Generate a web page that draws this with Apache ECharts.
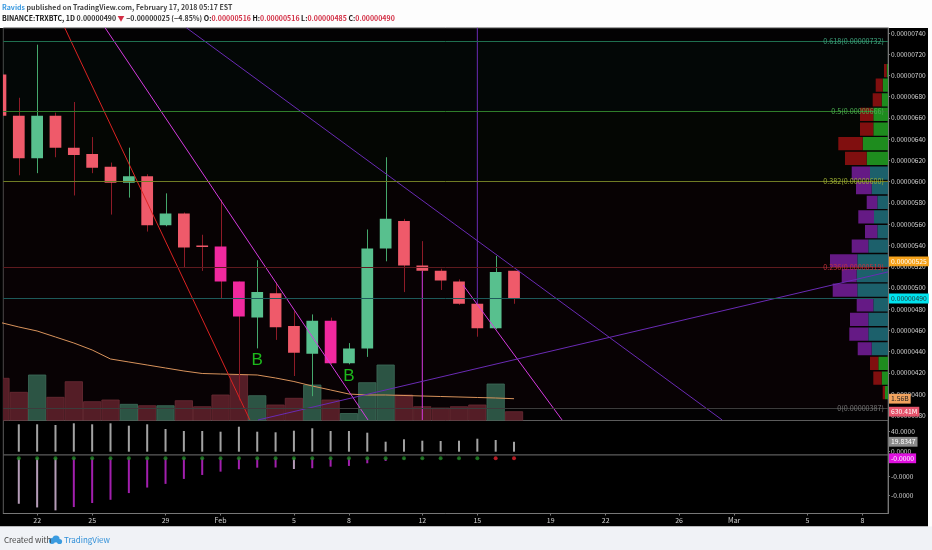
<!DOCTYPE html>
<html>
<head>
<meta charset="utf-8">
<script src="https://cdn.jsdelivr.net/npm/echarts@6.0.0/dist/echarts.min.js"></script>
<style>
html,body{margin:0;padding:0;background:#fdfdfd;overflow:hidden}
#chart{width:932px;height:550px}
</style>
</head>
<body>
<div id="chart"></div>
<script>
// ================= DATA (prices in satoshi = 1e-8 BTC) =================
const dates = ['2018-01-20','2018-01-21','2018-01-22','2018-01-23','2018-01-24','2018-01-25','2018-01-26','2018-01-27','2018-01-28','2018-01-29','2018-01-30','2018-01-31','2018-02-01','2018-02-02','2018-02-03','2018-02-04','2018-02-05','2018-02-06','2018-02-07','2018-02-08','2018-02-09','2018-02-10','2018-02-11','2018-02-12','2018-02-13','2018-02-14','2018-02-15','2018-02-16','2018-02-17'];
const opens  = [701,662,622,662,632,626,614,599,605,559,570,540,539,506,472,495,464,438,469,429,443,537,563,521,516,506,485,462,516];
const highs  = [712,679,729,665,675,642,618,632,607,589,571,550,583,506,526,505,478,475,472,448,555,623,565,544,518,508,486,530,516];
const lows   = [652,606,608,623,587,608,569,585,553,558,519,516,490,394,443,451,417,398,428,428,435,525,496,514,498,484,454,461,485];
const closes = [662,622,662,632,625,613,599,605,559,570,538,539,506,473,496,463,439,469,429,443,537,565,521,516,507,485,462,515,490];
const volumeM   = [3022,2019,3258,1661,2778,1346,1468,1160,1060,1060,1418,988,1826,3258,1776,1110,1590,2542,1468,500,2706,3974,1826,988,895,988,1110,2613,630.41];
const volumeMA  = [7017,6695,6408,5979,5549,5048,4403,4189,3974,3759,3544,3365,3329,3294,3258,3043,2792,2470,2184,1897,1826,1826,1790,1754,1718,1683,1647,1611,1560];
const highlightBars = ['2018-02-01','2018-02-02','2018-02-07'];
const buySignals = ['2018-02-03','2018-02-08'];
const oscillator = [55,54.8,54.8,53.4,56.8,54.8,56.8,52,54.8,45.4,41.4,41.4,40,50,40,38.8,42,46.8,41.4,41.4,38,20,24.8,22,21.4,22,26,23.4,19.8347];
const momentumE6 = [-45,-49.4,-53.4,-56.6,-53.0,-48.6,-45.1,-37.8,-31.8,-27.8,-22.4,-18.1,-14.5,-11.9,-10.2,-10.0,-11.6,-10.8,-9.1,-8.3,-5.4,-2.9,-1.2,-0.9,-0.6,-0.4,-0.3,-0.2,-0.1];
const squeezeOffDays = ['2018-02-16','2018-02-17'];
const xTickDates  = ['2018-01-22','2018-01-25','2018-01-29','2018-02-01','2018-02-05','2018-02-08','2018-02-12','2018-02-15','2018-02-19','2018-02-22','2018-02-26','2018-03-01','2018-03-05','2018-03-08'];
const xTickLabels = ['22','25','29','Feb','5','8','12','15','19','22','26','Mar','5','8'];
const priceTicks = [380,400,420,440,460,480,500,520,540,560,580,600,620,640,660,680,700,720,740];
const fibRatios = [0.618,0.5,0.382,0.236,0];
const fibPrices = [732,666,600,519,387];
const profileBase = 394.4, profileStep = 13.79;
const profileDown = [2.3,8.4,8.3,14,19,18.3,16.6,24.6,15,27.3,16.6,12.3,15.7,10.6,15.7,18.3,21.7,24.4,13.3,13.3,9,7,2.7];
const profileUp   = [3,6.3,9.7,16.3,19.7,19.7,14.7,30.7,31.3,30.7,19.7,10.7,14,10.7,16.3,18,21.3,25.3,14.7,14.7,6.3,5.3,1.3];
const valueAreaLow = 435.8, valueAreaHigh = 615.0;
// drawings: anchors [day offset from first date, price]
const lineRed      = [[3.5,745],[13.6,375.6]];
const lineMagentaA = [[5.70,745],[20.04,375.6]];
const lineMagentaC = [[25.22,502.7],[30.62,375.6]];
const linePurpleB  = [[10.13,745],[39.35,375.6]];
const linePurpleD  = [[14.04,375.6],[48.39,515.0]];
const vLinePurple  = [[26,745],[26,485]];
const vLineMagenta = [[23,516],[23,375.6]];
const alertPrice = 525;
const volMaLabel = '1.56B', volLastLabel = '630.41M';

// ================= HELPERS =================
const t0 = Date.parse(dates[0] + 'T00:00:00Z');
const dayOf = s => (Date.parse(s + 'T00:00:00Z') - t0) / 86400000;
const fmt8 = v => (v * 1e-8).toFixed(8);
const FONT = '"Noto Sans CJK SC","Liberation Sans",Arial,sans-serif';
const X_MIN = 0.155, X_MAX = 48.39, P_MIN = 375.1, P_MAX = 744.7;
const n = dates.length;
const last = n - 1;
const chg = closes[last] - closes[last - 1];
const pct = chg / closes[last - 1] * 100;
const minus = s => s.replace('-', '\u2212');
const tickX = xTickDates.map(dayOf);
const inView = d => dayOf(d) >= X_MIN;

const candleData = dates.map((d, i) => [dayOf(d), opens[i], closes[i], lows[i], highs[i], highlightBars.includes(d) ? 1 : 0]);
const volData = dates.map((d, i) => [dayOf(d), volumeM[i], closes[i] >= opens[i] ? 1 : 0]);
const profileData = profileDown.map((dn, k) => [profileBase + k * profileStep, dn, profileUp[k]]);
const oscData = dates.map((d, i) => [dayOf(d), oscillator[i]]).filter((p, i) => inView(dates[i]));
const momIdx = dates.map((d, i) => i).filter(i => inView(dates[i]));

const axisLabelStyle = {color: '#d2d2d2', fontSize: 6.6, fontFamily: FONT};
function xAxisDef(gridIndex, showLabels) {
  return {
    type: 'value', gridIndex, min: X_MIN, max: X_MAX,
    axisLine: {show: showLabels, onZero: false, lineStyle: {color: '#777'}},
    axisTick: {show: showLabels, customValues: tickX, length: 2, lineStyle: {color: '#777'}},
    axisLabel: Object.assign({show: showLabels, margin: 3, customValues: tickX,
      formatter: v => { let k = 0, b = 1e9; tickX.forEach((t, i) => { if (Math.abs(t - v) < b) { b = Math.abs(t - v); k = i; } }); return xTickLabels[k]; }
    }, axisLabelStyle, {fontSize: 7}),
    splitLine: {show: false}
  };
}

function renderCandle(params, api) {
  const d = api.value(0), o = api.value(1), c = api.value(2), l = api.value(3), h = api.value(4), hl = api.value(5);
  const pH = api.coord([d, h]), pL = api.coord([d, l]), pO = api.coord([d, o]), pC = api.coord([d, c]);
  const w = api.size([0.64, 0])[0];
  const up = c >= o;
  const body = hl ? '#f0299e' : (up ? '#58c08e' : '#ef5a6a');
  const wick = up ? '#45a86c' : '#8e1b27';
  const top = Math.min(pO[1], pC[1]);
  return {type: 'group', children: [
    {type: 'line', shape: {x1: Math.round(pH[0]) + 0.5, y1: pH[1], x2: Math.round(pH[0]) + 0.5, y2: pL[1]}, style: {stroke: wick, lineWidth: 1}},
    {type: 'rect', shape: {x: pO[0] - w / 2, y: top, width: w, height: Math.max(1.5, Math.abs(pO[1] - pC[1]))}, style: {fill: body}}
  ]};
}
function renderVolume(params, api) {
  const d = api.value(0), v = api.value(1), up = api.value(2);
  const a = api.coord([d - 0.5, v]), b = api.coord([d + 0.5, 0]);
  return {type: 'rect', shape: {x: a[0] + 0.5, y: a[1], width: b[0] - a[0] - 1, height: b[1] - a[1]},
    style: {fill: up ? '#2c5444' : '#541d26', stroke: up ? '#3f6d5a' : '#6c2c35', lineWidth: 0.8}};
}
function renderProfile(params, api) {
  const pLo = api.value(0), dn = api.value(1), up = api.value(2);
  const pHi = pLo + profileStep;
  const a = api.coord([0, pHi]), b = api.coord([up, pLo]), c = api.coord([up + dn, pLo]);
  const mid = pLo + profileStep / 2;
  const inVA = mid >= valueAreaLow && mid <= valueAreaHigh;
  const top = a[1] + 0.7, h = b[1] - a[1] - 1.4;
  return {type: 'group', children: [
    {type: 'rect', shape: {x: b[0], y: top, width: a[0] - b[0], height: h}, style: {fill: inVA ? '#1c606b' : '#1e8c1e'}},
    {type: 'rect', shape: {x: c[0], y: top, width: b[0] - c[0], height: h}, style: {fill: inVA ? '#651a85' : '#800f0f'}}
  ]};
}
function trend(data, color, z) {
  return {type: 'line', xAxisIndex: 0, yAxisIndex: 0, data, symbol: 'none', clip: true, silent: true,
    lineStyle: {color, width: 1}, z: z || 6};
}
const fibLineColors = ['#1f6f4f', '#2f7d2a', '#6f7c24', '#5e1a1e', '#3c3c3c'];
const fibTextColors = ['#3fa57e', '#4caf50', '#a0b232', '#c8323c', '#777777'];
const hidden = {color: 'rgba(0,0,0,0)', width: 0};
const boxLabel = (text, bg, fg) => ({show: true, position: 'end', distance: 1, formatter: text, backgroundColor: bg, color: fg,
  padding: [2, 2, 1, 2], fontSize: 6.8, fontFamily: FONT, opacity: 1});

const headerText =
  '{u|Ravids}{g| published on TradingView.com, February 17, 2018 05:17 EST}\n' +
  '{b|BINANCE:TRXBTC, 1D}{k| ' + fmt8(closes[last]) + ' }{r|\u25BC}{k| ' + minus(fmt8(chg)) + ' (' + minus(pct.toFixed(2)) + '%) }' +
  '{b|O:}{r|' + fmt8(opens[last]) + '}{b| H:}{r|' + fmt8(highs[last]) + '}{b| L:}{r|' + fmt8(lows[last]) + '}{b| C:}{r|' + fmt8(closes[last]) + '}';

const HF = 7;
const option = {
  animation: false,
  backgroundColor: '#fdfdfd',
  textStyle: {fontFamily: FONT},
  title: {left: 2, top: 1, padding: 0, text: headerText, textStyle: {rich: {
    u: {color: '#3b9ae0', fontSize: HF, fontFamily: FONT, lineHeight: 11.8},
    g: {color: '#444', fontSize: HF, fontFamily: FONT, lineHeight: 11.8},
    k: {color: '#333', fontSize: HF, fontFamily: FONT, lineHeight: 11.8},
    b: {color: '#111', fontSize: HF, fontFamily: FONT, fontWeight: 'bold', lineHeight: 11.8},
    r: {color: '#d22e44', fontSize: HF, fontFamily: FONT, lineHeight: 11.8}
  }}},
  graphic: [
    {type: 'rect', z: -10, silent: true, shape: {x: 0, y: 28, width: 928, height: 498.5}, style: {fill: '#000'}},
    {type: 'rect', z: -10, silent: true, shape: {x: 0, y: 526.5, width: 932, height: 24}, style: {fill: '#f0f2f6'}},
    {type: 'text', z: 10, style: {x: 4, y: 540, text: 'Created with', fill: '#444', fontSize: 8, fontFamily: FONT, verticalAlign: 'middle'}},
    {type: 'group', z: 10, children: [
      {type: 'circle', shape: {cx: 52, cy: 541, r: 3}, style: {fill: '#3a9be0'}},
      {type: 'circle', shape: {cx: 56, cy: 539, r: 3.6}, style: {fill: '#3a9be0'}},
      {type: 'circle', shape: {cx: 59.5, cy: 541.5, r: 2.6}, style: {fill: '#3a9be0'}}
    ]},
    {type: 'text', z: 10, style: {x: 64, y: 540, text: 'TradingView', fill: '#2f8fd8', fontSize: 8, fontFamily: FONT, verticalAlign: 'middle'}}
  ],
  grid: [
    {left: 3.3, right: 44, top: 28, height: 392.5, show: true, backgroundColor: '#030203', borderColor: '#4a4a4a', borderWidth: 1, outerBoundsMode: 'none'},
    {left: 3.3, right: 44, top: 420.5, height: 34.5, show: true, backgroundColor: '#000', borderColor: '#5c5c5c', borderWidth: 1, outerBoundsMode: 'none'},
    {left: 3.3, right: 44, top: 455, height: 58.5, show: true, backgroundColor: '#000', borderColor: '#5c5c5c', borderWidth: 1, outerBoundsMode: 'none'},
    {left: 3.3, right: 44, top: 28, height: 392.5, show: false, outerBoundsMode: 'none'}
  ],
  xAxis: [
    xAxisDef(0, false), xAxisDef(1, false), xAxisDef(2, true),
    {type: 'value', gridIndex: 3, min: 0, max: 884.7, inverse: true, show: false}
  ],
  yAxis: [
    {type: 'value', gridIndex: 0, position: 'right', min: P_MIN, max: P_MAX,
      axisLine: {show: true, lineStyle: {color: '#777'}}, axisTick: {show: true, length: 2, customValues: priceTicks, lineStyle: {color: '#777'}},
      axisLabel: Object.assign({margin: 3, customValues: priceTicks, formatter: v => fmt8(v)}, axisLabelStyle), splitLine: {show: false}},
    {type: 'value', gridIndex: 0, min: 0, max: 28100, show: false},
    {type: 'value', gridIndex: 1, position: 'right', min: -6.6, max: 62.4,
      axisLine: {show: true, lineStyle: {color: '#777'}}, axisTick: {show: true, length: 2, customValues: [0, 40], lineStyle: {color: '#777'}},
      axisLabel: Object.assign({margin: 3, customValues: [0, 40], formatter: v => v.toFixed(4)}, axisLabelStyle), splitLine: {show: false}},
    {type: 'value', gridIndex: 2, position: 'right', min: -0.00006, max: 0.00000359,
      axisLine: {show: true, lineStyle: {color: '#777'}}, axisTick: {show: true, length: 2, customValues: [-0.00004, -0.00002], lineStyle: {color: '#777'}},
      axisLabel: Object.assign({margin: 3, customValues: [-0.00004, -0.00002], formatter: v => v.toFixed(4)}, axisLabelStyle), splitLine: {show: false}},
    {type: 'value', gridIndex: 3, min: P_MIN, max: P_MAX, show: false}
  ],
  series: [
    // volume overlay
    {type: 'custom', xAxisIndex: 0, yAxisIndex: 1, data: volData, renderItem: renderVolume, clip: true, z: 1, silent: true, encode: {x: 0, y: 1}},
    {type: 'line', xAxisIndex: 0, yAxisIndex: 1, data: dates.map((d, i) => [dayOf(d), volumeMA[i]]), symbol: 'none', clip: true, silent: true,
      lineStyle: {color: '#d8935c', width: 1}, z: 2,
      markLine: {silent: true, z: 20, symbol: ['none', 'none'], lineStyle: hidden, data: [
        {yAxis: volumeMA[last], lineStyle: hidden, label: boxLabel(volMaLabel, '#f2a35e', '#222')},
        {yAxis: volumeM[last], lineStyle: hidden, label: boxLabel(volLastLabel, '#e5536b', '#fff')}
      ]}},
    // visible range volume profile
    {type: 'custom', xAxisIndex: 3, yAxisIndex: 4, data: profileData, renderItem: renderProfile, clip: true, z: 2, silent: true, encode: {x: [1, 2], y: 0}},
    // candles
    {type: 'custom', xAxisIndex: 0, yAxisIndex: 0, data: candleData, renderItem: renderCandle, clip: true, z: 4, silent: true, encode: {x: 0, y: [1, 2, 3, 4]}},
    // fib levels, price line and tinted bands
    Object.assign(trend(lineRed, '#dc2322', 6), {
      markArea: {silent: true, z: 1, data: [
        [{yAxis: fibPrices[0], itemStyle: {color: 'rgba(20,110,80,0.05)'}}, {yAxis: fibPrices[1]}],
        [{yAxis: fibPrices[1], itemStyle: {color: 'rgba(60,120,20,0.04)'}}, {yAxis: fibPrices[2]}],
        [{yAxis: fibPrices[2], itemStyle: {color: 'rgba(120,20,20,0.04)'}}, {yAxis: fibPrices[3]}],
        [{yAxis: fibPrices[3], itemStyle: {color: 'rgba(110,10,40,0.06)'}}, {yAxis: fibPrices[4]}]
      ]},
      markLine: {silent: true, z: 20, symbol: ['none', 'none'], data: fibPrices.map((p, i) => ({
        yAxis: p, lineStyle: {color: fibLineColors[i], width: 1, type: 'solid'},
        label: {show: true, position: 'insideEnd', distance: 4, formatter: fibRatios[i] + '(' + fmt8(p) + ')', color: fibTextColors[i], fontSize: 7.2, fontFamily: FONT}
      })).concat([
        {yAxis: closes[last], lineStyle: {color: '#1d5a5a', width: 1, type: 'solid'}, label: boxLabel(fmt8(closes[last]), '#00e3ee', '#203438')},
        {yAxis: alertPrice, lineStyle: hidden, label: boxLabel(fmt8(alertPrice), '#f5a21b', '#fff')}
      ])}
    }),
    trend(lineMagentaA, '#d63be0'),
    trend(lineMagentaC, '#d63be0'),
    trend(vLineMagenta, '#d63be0'),
    trend(linePurpleB, '#6a2bb5'),
    trend(linePurpleD, '#6a2bb5'),
    trend(vLinePurple, '#6a2bb5'),
    // buy signals
    {type: 'scatter', xAxisIndex: 0, yAxisIndex: 0, symbolSize: 0, silent: true, z: 8,
      data: buySignals.map(d => [dayOf(d), lows[dates.indexOf(d)]]),
      label: {show: true, position: 'bottom', distance: 3, formatter: 'B', color: '#22e622', fontSize: 17, fontFamily: 'Liberation Sans, Arial, sans-serif'}},
    // pane 1 oscillator
    {type: 'bar', xAxisIndex: 1, yAxisIndex: 2, barWidth: 2, silent: true, data: oscData,
      itemStyle: {color: '#a3a3a3'},
      markLine: {silent: true, z: 20, symbol: ['none', 'none'], lineStyle: hidden, data: [
        {yAxis: oscillator[last], lineStyle: hidden, label: boxLabel(oscillator[last].toFixed(4), '#8a8a8a', '#fff')}
      ]}},
    // pane 2 momentum
    {type: 'bar', xAxisIndex: 2, yAxisIndex: 3, barWidth: 2, silent: true, data: momIdx.map(i => [dayOf(dates[i]), momentumE6[i] * 1e-6]),
      itemStyle: {color: p => { const i = momIdx[p.dataIndex]; const cur = Math.abs(momentumE6[i]), prev = i > 0 ? Math.abs(momentumE6[i - 1]) : 0; return cur > prev ? '#b59cb8' : '#a21fae'; }},
      markLine: {silent: true, z: 20, symbol: ['none', 'none'], lineStyle: hidden, data: [
        {yAxis: momentumE6[last] * 1e-6, lineStyle: hidden, label: boxLabel(momentumE6[last] < 0 ? '-0.0000' : '0.0000', '#e010e0', '#fff')}
      ]}},
    {type: 'scatter', xAxisIndex: 2, yAxisIndex: 3, symbolSize: 4, silent: true, z: 5,
      data: momIdx.map(i => [dayOf(dates[i]), 0]),
      itemStyle: {color: p => squeezeOffDays.includes(dates[momIdx[p.dataIndex]]) ? '#e0242c' : '#1f8a24'}}
  ]
};
const chart = echarts.init(document.getElementById('chart'), null, {renderer: 'canvas', width: 932, height: 550});
chart.setOption(option);
</script>
</body>
</html>
